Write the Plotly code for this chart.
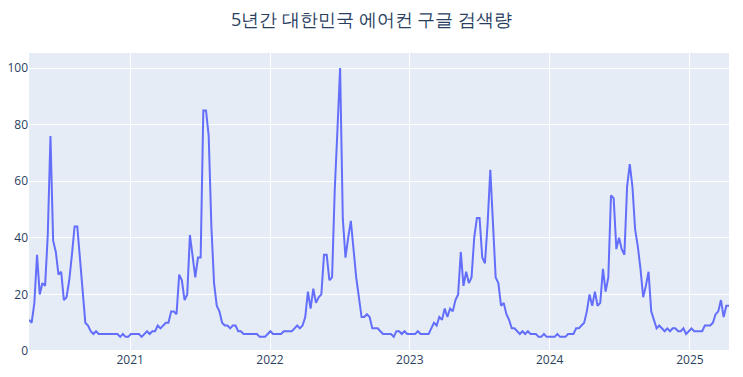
import pandas as pd
import plotly.graph_objects as go

start_date = "2020-04-12"
search_volume = [
    11, 10, 17, 34, 20, 24, 23, 41, 76, 39, 35, 27, 28, 18, 19, 25, 34, 44, 44, 33,
    21, 10, 9, 7, 6, 7, 6, 6, 6, 6, 6, 6, 6, 6, 5, 6, 5, 5, 6, 6,
    6, 6, 5, 6, 7, 6, 7, 7, 9, 8, 9, 10, 10, 14, 14, 13, 27, 25, 18, 20,
    41, 33, 26, 33, 33, 85, 85, 76, 44, 24, 16, 14, 10, 9, 9, 8, 9, 9, 7, 7,
    6, 6, 6, 6, 6, 6, 5, 5, 5, 6, 7, 6, 6, 6, 6, 7, 7, 7, 7, 8,
    9, 8, 9, 12, 21, 15, 22, 17, 19, 20, 34, 34, 25, 26, 57, 78, 100, 47, 33, 40,
    46, 36, 26, 19, 12, 12, 13, 12, 8, 8, 8, 7, 6, 6, 6, 6, 5, 7, 7, 6,
    7, 6, 6, 6, 6, 7, 6, 6, 6, 6, 8, 10, 9, 12, 11, 15, 12, 15, 14, 18,
    20, 35, 23, 28, 24, 26, 40, 47, 47, 33, 31, 45, 64, 47, 26, 24, 16, 17, 13, 11,
    8, 8, 7, 6, 7, 6, 7, 6, 6, 6, 5, 5, 6, 5, 5, 5, 5, 6, 5, 5,
    5, 6, 6, 6, 8, 8, 9, 10, 14, 20, 16, 21, 16, 17, 29, 21, 26, 55, 54, 36,
    40, 36, 34, 58, 66, 58, 43, 37, 29, 19, 23, 28, 14, 11, 8, 9, 8, 7, 8, 7,
    8, 8, 7, 7, 8, 6, 7, 8, 7, 7, 7, 7, 9, 9, 9, 10, 13, 14, 18, 12,
    16, 16,
]
weeks = pd.date_range(start_date, periods=len(search_volume), freq="W-SUN")

title_text = "5년간 대한민국 에어컨 구글 검색량"

fig = go.Figure(
    go.Scatter(x=weeks, y=search_volume, mode="lines",
               line=dict(color="#636efa", width=2))
)
fig.update_layout(
    template="plotly",
    width=743, height=377,
    margin=dict(l=29, r=14, t=53, b=26),
    title=dict(text=title_text, x=0.5, xanchor="center", y=0.947, yanchor="middle",
               font=dict(size=18, color="#2a3f5f")),
    showlegend=False,
)
fig.update_yaxes(range=[0, 105.3], dtick=20, automargin=False)
fig.update_xaxes(dtick="M12", tick0="2021-01-01", tickformat="%Y", automargin=False)
fig.write_html("out.html", config={"displayModeBar": False},
               post_script="document.body.style.margin='0px';")
